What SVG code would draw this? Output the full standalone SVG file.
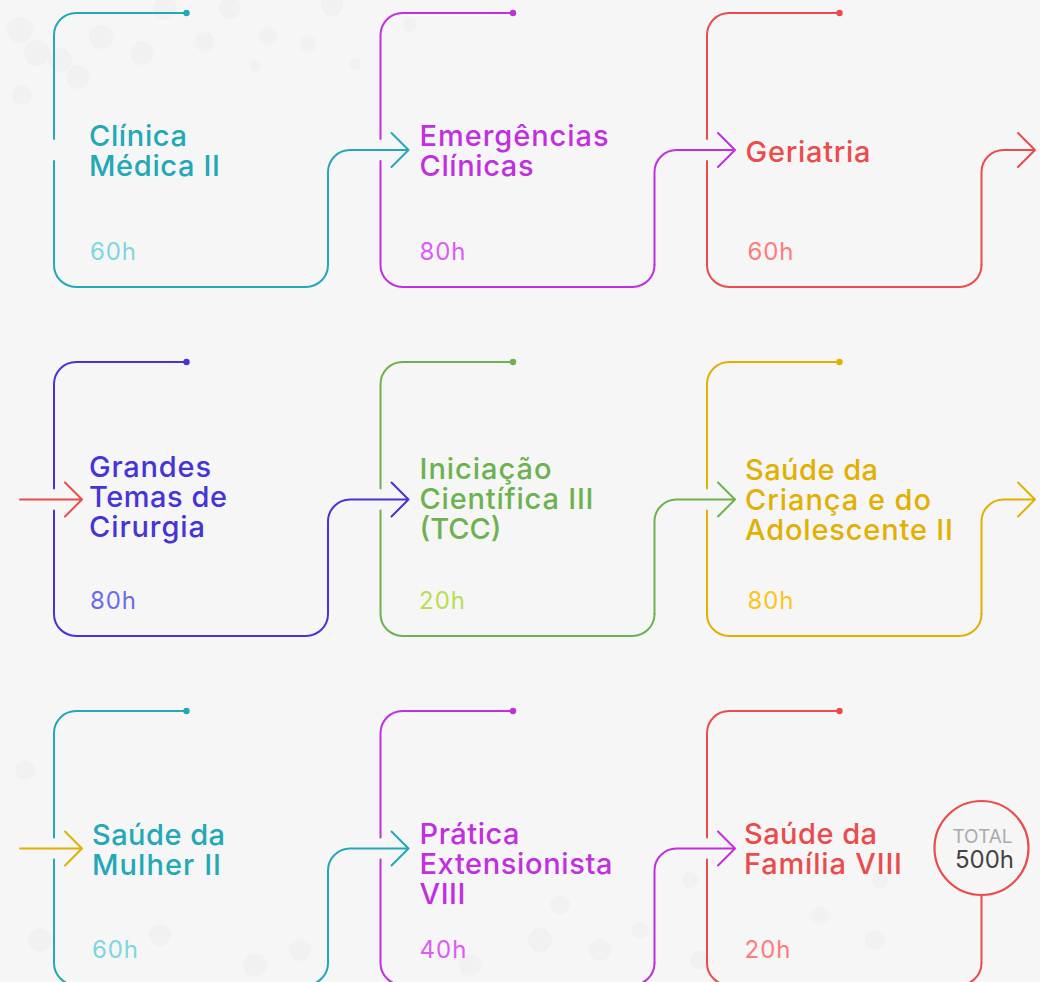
<svg xmlns="http://www.w3.org/2000/svg" width="1040" height="982" viewBox="0 0 1040 982">
<style>
.ln{fill:none;stroke-width:2;stroke-linecap:round;stroke-linejoin:round}
.t{font-family:Inter,"Open Sans","Liberation Sans",sans-serif;font-size:29px;font-weight:450}
.h{font-family:Inter,"Open Sans","Liberation Sans",sans-serif;font-size:24px;font-weight:400}
.teal{stroke:#22a8b7}.purple{stroke:#c12fdf}.red{stroke:#ec4b4b}.blue{stroke:#4634d6}.green{stroke:#6cb24f}.gold{stroke:#e2b000}
.fteal{fill:#22a8b7}.fpurple{fill:#c12fdf}.fred{fill:#ec4b4b}.fblue{fill:#4634d6}.fgreen{fill:#6cb24f}.fgold{fill:#e2b000}
.lteal{fill:#7dd6e0}.lpurple{fill:#dc5cf5}.lred{fill:#ff7b7b}.lblue{fill:#6d6ce2}.lgreen{fill:#b9de52}.lgold{fill:#fbc51d}
.dot{fill:#000;opacity:0.018}
</style>
<rect x="0" y="0" width="1040" height="982" fill="#f6f6f7"/>
<g id="background">
<circle class="dot" cx="20" cy="30" r="13"/><circle class="dot" cx="60" cy="60" r="12"/>
<circle class="dot" cx="101" cy="37" r="12"/><circle class="dot" cx="165" cy="8" r="12"/><circle class="dot" cx="230" cy="8" r="11"/>
<circle class="dot" cx="37" cy="53" r="13"/><circle class="dot" cx="142" cy="53" r="12"/><circle class="dot" cx="78" cy="77" r="12"/>
<circle class="dot" cx="205" cy="42" r="10"/><circle class="dot" cx="268" cy="36" r="9"/><circle class="dot" cx="308" cy="44" r="8"/>
<circle class="dot" cx="332" cy="5" r="11"/><circle class="dot" cx="410" cy="25" r="7"/><circle class="dot" cx="355" cy="64" r="6"/>
<circle class="dot" cx="22" cy="95" r="10"/><circle class="dot" cx="255" cy="66" r="6"/>
<circle class="dot" cx="25" cy="770" r="10"/><circle class="dot" cx="40" cy="940" r="12"/><circle class="dot" cx="160" cy="935" r="11"/>
<circle class="dot" cx="300" cy="950" r="11"/><circle class="dot" cx="255" cy="965" r="12"/><circle class="dot" cx="540" cy="940" r="12"/>
<circle class="dot" cx="560" cy="905" r="10"/><circle class="dot" cx="600" cy="950" r="11"/><circle class="dot" cx="700" cy="960" r="10"/>
<circle class="dot" cx="880" cy="880" r="8"/><circle class="dot" cx="875" cy="940" r="10"/><circle class="dot" cx="640" cy="930" r="9"/>
<circle class="dot" cx="470" cy="965" r="11"/><circle class="dot" cx="690" cy="880" r="8"/><circle class="dot" cx="820" cy="915" r="9"/>
</g>
<g id="connectors">
<path class="ln teal" d="M328,265 V172 A22,22 0 0 1 350,150 H408.5 M391.5,133 L408.5,150 L391.5,167"/>
<path class="ln purple" d="M654.5,265 V172 A22,22 0 0 1 676.5,150 H735 M718,133 L735,150 L718,167"/>
<path class="ln red" d="M981.5,265 V172 A22,22 0 0 1 1003.5,150 H1035 M1018,133 L1035,150 L1018,167"/>
<path class="ln red" d="M20,499.5 H82 M65,482.5 L82,499.5 L65,516.5"/>
<path class="ln blue" d="M328,614 V521.5 A22,22 0 0 1 350,499.5 H408.5 M391.5,482.5 L408.5,499.5 L391.5,516.5"/>
<path class="ln green" d="M654.5,614 V521.5 A22,22 0 0 1 676.5,499.5 H735 M718,482.5 L735,499.5 L718,516.5"/>
<path class="ln gold" d="M981.5,614 V521.5 A22,22 0 0 1 1003.5,499.5 H1035 M1018,482.5 L1035,499.5 L1018,516.5"/>
<path class="ln gold" d="M20,848.5 H82 M65,831.5 L82,848.5 L65,865.5"/>
<path class="ln teal" d="M328,963 V870.5 A22,22 0 0 1 350,848.5 H408.5 M391.5,831.5 L408.5,848.5 L391.5,865.5"/>
<path class="ln purple" d="M654.5,963 V870.5 A22,22 0 0 1 676.5,848.5 H735 M718,831.5 L735,848.5 L718,865.5"/>
<path class="ln red" d="M981.5,963 V895"/>
</g>
<g id="node-clinica-medica-ii">
<path class="ln teal" d="M186.5,13 H76 A22,22 0 0 0 54,35 V139 M54,161 V265 A22,22 0 0 0 76,287 H306 A22,22 0 0 0 328,265"/>
<circle class="fteal" cx="186.5" cy="13" r="3.2"/>
<text class="t fteal" x="89" y="146" textLength="98" lengthAdjust="spacing">Clínica</text>
<text class="t fteal" x="89" y="176" textLength="131" lengthAdjust="spacing">Médica II</text>
<text class="h lteal" x="90" y="260" textLength="46" lengthAdjust="spacing">60h</text>
</g>
<g id="node-emergencias-clinicas">
<path class="ln purple" d="M513,13 H402.5 A22,22 0 0 0 380.5,35 V139 M380.5,161 V265 A22,22 0 0 0 402.5,287 H632.5 A22,22 0 0 0 654.5,265"/>
<circle class="fpurple" cx="513" cy="13" r="3.2"/>
<text class="t fpurple" x="419.5" y="146" textLength="189" lengthAdjust="spacing">Emergências</text>
<text class="t fpurple" x="419.5" y="176" textLength="114" lengthAdjust="spacing">Clínicas</text>
<text class="h lpurple" x="419.5" y="260" textLength="46" lengthAdjust="spacing">80h</text>
</g>
<g id="node-geriatria">
<path class="ln red" d="M839.5,13 H729 A22,22 0 0 0 707,35 V139 M707,161 V265 A22,22 0 0 0 729,287 H959.5 A22,22 0 0 0 981.5,265"/>
<circle class="fred" cx="839.5" cy="13" r="3.2"/>
<text class="t fred" x="745.5" y="162" textLength="125" lengthAdjust="spacing">Geriatria</text>
<text class="h lred" x="747.5" y="260" textLength="46" lengthAdjust="spacing">60h</text>
</g>
<g id="node-grandes-temas-de-cirurgia">
<path class="ln blue" d="M186.5,362 H76 A22,22 0 0 0 54,384 V488.5 M54,510.5 V614 A22,22 0 0 0 76,636 H306 A22,22 0 0 0 328,614"/>
<circle class="fblue" cx="186.5" cy="362" r="3.2"/>
<text class="t fblue" x="89" y="477" textLength="122" lengthAdjust="spacing">Grandes</text>
<text class="t fblue" x="89" y="507" textLength="138" lengthAdjust="spacing">Temas de</text>
<text class="t fblue" x="89" y="537" textLength="116" lengthAdjust="spacing">Cirurgia</text>
<text class="h lblue" x="90" y="609" textLength="46" lengthAdjust="spacing">80h</text>
</g>
<g id="node-iniciacao-cientifica-iii">
<path class="ln green" d="M513,362 H402.5 A22,22 0 0 0 380.5,384 V488.5 M380.5,510.5 V614 A22,22 0 0 0 402.5,636 H632.5 A22,22 0 0 0 654.5,614"/>
<circle class="fgreen" cx="513" cy="362" r="3.2"/>
<text class="t fgreen" x="419.5" y="479" textLength="132" lengthAdjust="spacing">Iniciação</text>
<text class="t fgreen" x="419.5" y="508.5" textLength="174" lengthAdjust="spacing">Científica III</text>
<text class="t fgreen" x="419.5" y="538.5" textLength="82" lengthAdjust="spacing">(TCC)</text>
<text class="h lgreen" x="419" y="609" textLength="46" lengthAdjust="spacing">20h</text>
</g>
<g id="node-saude-da-crianca">
<path class="ln gold" d="M839.5,362 H729 A22,22 0 0 0 707,384 V488.5 M707,510.5 V614 A22,22 0 0 0 729,636 H959.5 A22,22 0 0 0 981.5,614"/>
<circle class="fgold" cx="839.5" cy="362" r="3.2"/>
<text class="t fgold" x="745" y="479.5" textLength="133" lengthAdjust="spacing">Saúde da</text>
<text class="t fgold" x="745" y="509.5" textLength="186" lengthAdjust="spacing">Criança e do</text>
<text class="t fgold" x="745" y="540" textLength="208" lengthAdjust="spacing">Adolescente II</text>
<text class="h lgold" x="747.5" y="609" textLength="46" lengthAdjust="spacing">80h</text>
</g>
<g id="node-saude-da-mulher-ii">
<path class="ln teal" d="M186.5,711 H76 A22,22 0 0 0 54,733 V837.5 M54,859.5 V963 A22,22 0 0 0 76,985 H306 A22,22 0 0 0 328,963"/>
<circle class="fteal" cx="186.5" cy="711" r="3.2"/>
<text class="t fteal" x="92" y="844.5" textLength="133" lengthAdjust="spacing">Saúde da</text>
<text class="t fteal" x="92" y="874.5" textLength="129" lengthAdjust="spacing">Mulher II</text>
<text class="h lteal" x="92" y="958" textLength="46" lengthAdjust="spacing">60h</text>
</g>
<g id="node-pratica-extensionista-viii">
<path class="ln purple" d="M513,711 H402.5 A22,22 0 0 0 380.5,733 V837.5 M380.5,859.5 V963 A22,22 0 0 0 402.5,985 H632.5 A22,22 0 0 0 654.5,963"/>
<circle class="fpurple" cx="513" cy="711" r="3.2"/>
<text class="t fpurple" x="419.5" y="844" textLength="100" lengthAdjust="spacing">Prática</text>
<text class="t fpurple" x="419.5" y="874" textLength="193" lengthAdjust="spacing">Extensionista</text>
<text class="t fpurple" x="419.5" y="904" textLength="46" lengthAdjust="spacing">VIII</text>
<text class="h lpurple" x="419.5" y="958" textLength="47" lengthAdjust="spacing">40h</text>
</g>
<g id="node-saude-da-familia-viii">
<path class="ln red" d="M839.5,711 H729 A22,22 0 0 0 707,733 V837.5 M707,859.5 V963 A22,22 0 0 0 729,985 H959.5 A22,22 0 0 0 981.5,963"/>
<circle class="fred" cx="839.5" cy="711" r="3.2"/>
<text class="t fred" x="744" y="844" textLength="133" lengthAdjust="spacing">Saúde da</text>
<text class="t fred" x="744" y="874" textLength="158" lengthAdjust="spacing">Família VIII</text>
<text class="h lred" x="744.5" y="958" textLength="46" lengthAdjust="spacing">20h</text>
</g>
<g id="node-total">
<circle cx="981.5" cy="848" r="47" fill="none" stroke="#ec4b4b" stroke-width="2.2"/>
<text x="982.5" y="842.5" text-anchor="middle" font-family="Inter,'Open Sans','Liberation Sans',sans-serif" font-size="19" fill="#aaabae">TOTAL</text>
<text x="984.5" y="867.5" text-anchor="middle" font-family="Inter,'Open Sans','Liberation Sans',sans-serif" font-size="24" fill="#444">500h</text>
</g>
</svg>
